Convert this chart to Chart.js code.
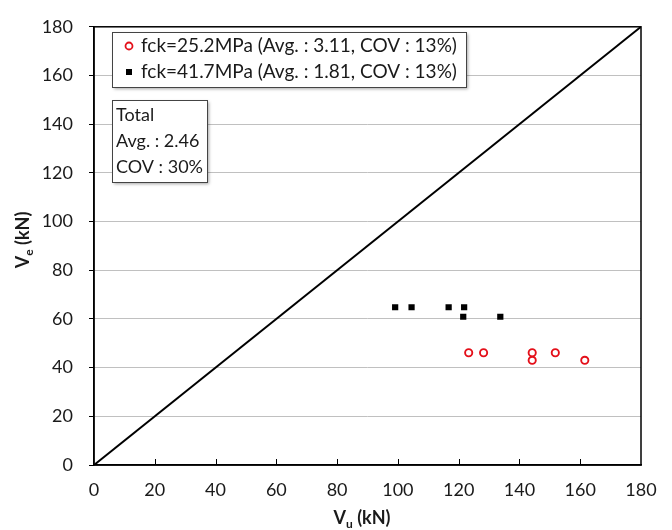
<!DOCTYPE html>
<html>
<head>
<meta charset="utf-8">
<script src="https://cdn.jsdelivr.net/npm/chart.js@4"></script>
<style>
  html, body { margin: 0; padding: 0; background: #fff; }
  #shearChart { display: block; }
</style>
</head>
<body>
<canvas id="shearChart" width="672" height="530"></canvas>
<script>
// V_u (predicted) vs V_e (experimental), both in kN
const fck25Vu = [123.3, 128.2, 144.2, 144.2, 151.8, 161.5];
const fck25Ve = [46.1, 46.1, 46.1, 43.0, 46.1, 43.0];
const fck41Vu = [99.1, 104.5, 116.7, 121.8, 121.5, 133.7];
const fck41Ve = [64.8, 64.8, 64.8, 64.8, 60.9, 60.9];
const equalityLine = [0, 180];

const axisMin = 0;
const axisMax = 180;
const axisStep = 20;

const seriesLabels = [
  'fck=25.2MPa (Avg. : 3.11, COV : 13%)',
  'fck=41.7MPa (Avg. : 1.81, COV : 13%)'
];
const totalLines = ['Total', 'Avg. : 2.46', 'COV : 30%'];

const FONT = 'Lato, "Open Sans", sans-serif';
const TEXT = '#1a1a1a';

const toPoints = (xs, ys) => xs.map((x, i) => ({ x: x, y: ys[i] }));

// frame, inward x ticks, axis titles and the two note boxes
const decorations = {
  id: 'decorations',
  afterDatasetsDraw(chart) {
    const ctx = chart.ctx;
    const area = chart.chartArea;
    const xs = chart.scales.x;
    ctx.save();

    ctx.strokeStyle = '#000';
    ctx.lineWidth = 1.5;
    ctx.strokeRect(area.left, area.top, area.right - area.left, area.bottom - area.top);

    ctx.lineWidth = 1;
    for (let v = axisMin + axisStep; v < axisMax; v += axisStep) {
      const px = Math.round(xs.getPixelForValue(v)) + 0.5;
      ctx.beginPath();
      ctx.moveTo(px, area.bottom);
      ctx.lineTo(px, area.bottom - 6);
      ctx.stroke();
    }

    // boxed notes
    const box = (x, y, w, h) => {
      ctx.save();
      ctx.shadowColor = 'rgba(0,0,0,0.35)';
      ctx.shadowOffsetX = 2;
      ctx.shadowOffsetY = 2;
      ctx.shadowBlur = 3;
      ctx.fillStyle = '#fff';
      ctx.fillRect(x, y, w, h);
      ctx.restore();
      ctx.strokeStyle = '#444';
      ctx.lineWidth = 1;
      ctx.strokeRect(x + 0.5, y + 0.5, w, h);
    };

    box(112, 32, 354, 55);
    ctx.font = '19px ' + FONT;
    ctx.fillStyle = TEXT;
    ctx.textBaseline = 'middle';
    ctx.textAlign = 'left';
    ctx.fillText(seriesLabels[0], 141, 46);
    ctx.fillText(seriesLabels[1], 141, 72);

    ctx.strokeStyle = '#e4101a';
    ctx.lineWidth = 1.8;
    ctx.beginPath();
    ctx.arc(129, 46, 3.5, 0, Math.PI * 2);
    ctx.stroke();
    ctx.fillStyle = '#000';
    ctx.fillRect(126, 69, 6, 6);

    box(112, 100, 95, 82);
    ctx.font = '18px ' + FONT;
    ctx.fillStyle = TEXT;
    ctx.fillText(totalLines[0], 116, 115);
    ctx.fillText(totalLines[1], 116, 141);
    ctx.fillText(totalLines[2], 116, 167);

    // axis titles with subscripts
    const drawTitle = (main, sub, rest) => {
      ctx.font = 'bold 18px ' + FONT;
      const w1 = ctx.measureText(main).width;
      const w3 = ctx.measureText(rest).width;
      ctx.font = 'bold 12px ' + FONT;
      const w2 = ctx.measureText(sub).width;
      let x = -(w1 + w2 + w3) / 2;
      ctx.font = 'bold 18px ' + FONT;
      ctx.fillText(main, x, 0);
      x += w1;
      ctx.font = 'bold 12px ' + FONT;
      ctx.fillText(sub, x, 6);
      x += w2;
      ctx.font = 'bold 18px ' + FONT;
      ctx.fillText(rest, x, 0);
    };

    ctx.fillStyle = TEXT;
    ctx.textAlign = 'left';
    ctx.textBaseline = 'middle';
    ctx.save();
    ctx.translate(362, 518);
    drawTitle('V', 'u', ' (kN)');
    ctx.restore();

    ctx.save();
    ctx.translate(23, 240);
    ctx.rotate(-Math.PI / 2);
    drawTitle('V', 'e', ' (kN)');
    ctx.restore();

    ctx.restore();
  }
};

const ctx = document.getElementById('shearChart').getContext('2d');
const shearChart = new Chart(ctx, {
  type: 'scatter',
  data: {
    datasets: [{
      label: seriesLabels[0],
      data: toPoints(fck25Vu, fck25Ve),
      pointStyle: 'circle',
      pointRadius: 3.6,
      borderWidth: 1.9,
      borderColor: '#e4101a',
      backgroundColor: 'rgba(255,255,255,0)',
    }, {
      label: seriesLabels[1],
      data: toPoints(fck41Vu, fck41Ve),
      pointStyle: 'rect',
      pointRadius: 4.4,
      borderWidth: 0,
      borderColor: '#000',
      backgroundColor: '#000',
    }, {
      label: 'Vu = Ve',
      data: toPoints(equalityLine, equalityLine),
      showLine: true,
      pointRadius: 0,
      borderColor: '#000',
      borderWidth: 2,
    }]
  },
  options: {
    responsive: false,
    animation: false,
    events: [],
    layout: { padding: { top: 19, right: 31, left: 0, bottom: 0 } },
    plugins: {
      legend: { display: false },
      tooltip: { enabled: false },
    },
    scales: {
      x: {
        type: 'linear',
        min: axisMin,
        max: axisMax,
        afterFit: (scale) => { scale.height = 65; },
        ticks: { stepSize: axisStep, padding: 14, color: TEXT, font: { family: FONT, size: 18 } },
        grid: { drawOnChartArea: false, drawTicks: false },
        border: { display: true, color: '#000', width: 1.5 },
      },
      y: {
        type: 'linear',
        min: axisMin,
        max: axisMax,
        afterFit: (scale) => { scale.width = 94; },
        ticks: { stepSize: axisStep, padding: 16, color: TEXT, font: { family: FONT, size: 18 } },
        grid: { color: '#c0c0c0', lineWidth: 1, tickColor: '#000', tickLength: 5 },
        border: { display: true, color: '#000', width: 1.5 },
      }
    }
  },
  plugins: [decorations]
});
</script>
</body>
</html>
